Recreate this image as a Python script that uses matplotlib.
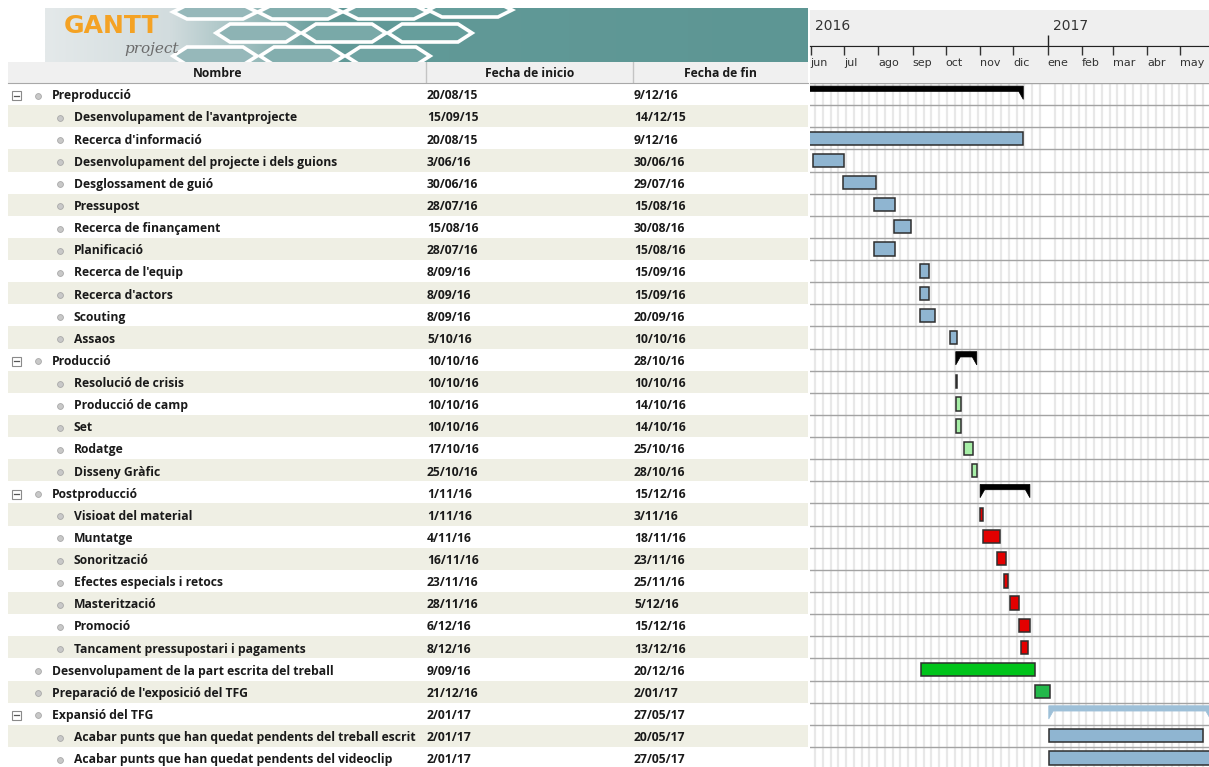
import matplotlib
matplotlib.use("Agg")
import matplotlib.pyplot as plt
import matplotlib.dates as mdates
from matplotlib.patches import Polygon, Rectangle
from matplotlib.ticker import FuncFormatter
from matplotlib.transforms import blended_transform_factory, offset_copy
import numpy as np
from datetime import datetime, timedelta

# ---------------- data ----------------
task_names = [
    "Preproducció",
    "Desenvolupament de l'avantprojecte",
    "Recerca d'informació",
    "Desenvolupament del projecte i dels guions",
    "Desglossament de guió",
    "Pressupost",
    "Recerca de finançament",
    "Planificació",
    "Recerca de l'equip",
    "Recerca d'actors",
    "Scouting",
    "Assaos",
    "Producció",
    "Resolució de crisis",
    "Producció de camp",
    "Set",
    "Rodatge",
    "Disseny Gràfic",
    "Postproducció",
    "Visioat del material",
    "Muntatge",
    "Sonorització",
    "Efectes especials i retocs",
    "Masterització",
    "Promoció",
    "Tancament pressupostari i pagaments",
    "Desenvolupament de la part escrita del treball",
    "Preparació de l'exposició del TFG",
    "Expansió del TFG",
    "Acabar punts que han quedat pendents del treball escrit",
    "Acabar punts que han quedat pendents del videoclip",
]
start_labels = [
    "20/08/15", "15/09/15", "20/08/15", "3/06/16", "30/06/16", "28/07/16",
    "15/08/16", "28/07/16", "8/09/16", "8/09/16", "8/09/16", "5/10/16",
    "10/10/16", "10/10/16", "10/10/16", "10/10/16", "17/10/16", "25/10/16",
    "1/11/16", "1/11/16", "4/11/16", "16/11/16", "23/11/16", "28/11/16",
    "6/12/16", "8/12/16", "9/09/16", "21/12/16", "2/01/17", "2/01/17", "2/01/17",
]
end_labels = [
    "9/12/16", "14/12/15", "9/12/16", "30/06/16", "29/07/16", "15/08/16",
    "30/08/16", "15/08/16", "15/09/16", "15/09/16", "20/09/16", "10/10/16",
    "28/10/16", "10/10/16", "14/10/16", "14/10/16", "25/10/16", "28/10/16",
    "15/12/16", "3/11/16", "18/11/16", "23/11/16", "25/11/16", "5/12/16",
    "15/12/16", "13/12/16", "20/12/16", "2/01/17", "27/05/17", "20/05/17", "27/05/17",
]
indent_levels = [0, 1, 1, 1, 1, 1, 1, 1, 1, 1, 1, 1,
                 0, 1, 1, 1, 1, 1,
                 0, 1, 1, 1, 1, 1, 1, 1,
                 0, 0, 0, 1, 1]
is_summary = [True] + [False] * 11 + [True] + [False] * 5 + [True] + [False] * 7 + \
             [False, False, True, False, False]
BLUE, LGREEN, RED = "#8fb5d1", "#a6eea6", "#e30000"
bar_colors = ["#000000"] + [BLUE] * 11 + ["#000000"] + [LGREEN] * 5 + ["#000000"] + [RED] * 7 + \
             ["#00c41a", "#22b84a", "#9ec0d8", BLUE, BLUE]
month_names = ["ene", "feb", "mar", "abr", "may", "jun", "jul", "ago", "sep", "oct", "nov", "dic"]
header_labels = ["Nombre", "Fecha de inicio", "Fecha de fin"]

# ---------------- layout ----------------
W, H = 1209, 767
ROW_TOP, ROW_H = 83.0, 22.13
PX_PER_DAY = 1.107
n = len(task_names)
rows = np.arange(1, n + 1)
y_bottom = 0.5 + (H - ROW_TOP) / ROW_H

view_start = datetime(2016, 5, 31, 8)
view_end = view_start + timedelta(days=(W - 810) / PX_PER_DAY)


def parse(s):
    d, m, y = s.split("/")
    return datetime(2000 + int(y), int(m), int(d))


start_dt = [parse(s) for s in start_labels]
end_dt = [parse(s) + timedelta(days=1) for s in end_labels]

fig = plt.figure(figsize=(W / 100, H / 100), dpi=100)
fig.patch.set_facecolor("white")


def px_axes(x0, y0, x1, y1, **kw):
    return fig.add_axes([x0 / W, 1 - y1 / H, (x1 - x0) / W, (y1 - y0) / H], **kw)


BOLD = dict(family=["Open Sans", "DejaVu Sans"], fontweight="bold")
FS = 8.7

# ---------------- banner ----------------
bx = px_axes(45, 8, 808, 62)
bx.set_xlim(45, 808)
bx.set_ylim(62, 8)
bx.axis("off")
xs = np.linspace(45, 808, 600)
stops_x = [45, 170, 260, 330, 808]
stops_c = [(228, 233, 234), (210, 220, 222), (150, 185, 185), (98, 154, 152), (93, 150, 148)]
grad = np.stack([np.interp(xs, stops_x, [c[k] for c in stops_c]) for k in range(3)], axis=-1) / 255.0
bx.imshow(grad[None, :, :], extent=(45, 808, 62, 8), aspect="auto", zorder=0)
hexes = [(215, 12, 7), (300, 12, 7), (386, 12, 7), (470, 10, 7),
         (258, 33, 9), (344, 33, 9), (430, 33, 9),
         (215, 56, 9), (302, 56, 9), (388, 56, 9)]
for cx, cy, hh in hexes:
    verts = [(cx - 42, cy), (cx - 28, cy - hh), (cx + 28, cy - hh), (cx + 42, cy),
             (cx + 28, cy + hh), (cx - 28, cy + hh)]
    t = np.clip((cx - 180) / 250, 0, 1)
    face = (1 - t) * np.array([0.62, 0.74, 0.75]) + t * np.array([0.40, 0.62, 0.61])
    bx.add_patch(Polygon(verts, closed=True, fc=face, ec="white", lw=2.6, zorder=2))
bx.text(64, 26, "GANTT", color="#f4a224", fontsize=18, fontweight="bold",
        family=["DejaVu Sans"], va="center", ha="left", zorder=3)
bx.text(124, 49, "project", color="#6b6b6b", fontsize=11, style="italic",
        family=["DejaVu Serif"], va="center", ha="left", zorder=3)

# ---------------- table header ----------------
hx = px_axes(8, 62, 808, 83)
hx.set_xlim(8, 808)
hx.set_ylim(0, 1)
hx.set_facecolor("#f0f0f0")
hx.set_xticks([])
hx.set_yticks([])
for k, s in hx.spines.items():
    s.set_visible(k == "bottom")
hx.spines["bottom"].set_color("#a8a8a8")
for xsep in (426, 633):
    hx.axvline(xsep, color="#c4c4c4", lw=1)
for lbl, xc in zip(header_labels, (218, 530, 720)):
    hx.text(xc, 0.45, lbl, ha="center", va="center", fontsize=FS, color="#1a1a1a", **BOLD)

# ---------------- table body ----------------
tx = px_axes(8, ROW_TOP, 808, H)
tx.set_xlim(8, 808)
tx.set_ylim(y_bottom, 0.5)
tx.axis("off")
for r in rows:
    if r % 2 == 0:
        tx.axhspan(r - 0.5, r + 0.5, color="#efefe4", lw=0)
for r, name, lvl, summ, s_lbl, e_lbl in zip(rows, task_names, indent_levels, is_summary,
                                             start_labels, end_labels):
    bullet_x = 38 if lvl == 0 else 60
    text_x = 52 if lvl == 0 else 74
    yc = r + 0.08
    if summ:
        tx.add_patch(Rectangle((12, yc - 0.2), 9, 0.4, fc="white", ec="#8a8a8a", lw=0.8))
        tx.plot([14, 19], [yc, yc], color="#555555", lw=0.9)
    tx.plot([bullet_x], [yc], marker="o", ms=4.2, mfc="#c8c8c8", mec="#a8a8a8", mew=0.6)
    tx.text(text_x, yc, name, ha="left", va="center", fontsize=FS, color="#1a1a1a", **BOLD)
    tx.text(427, yc, s_lbl, ha="left", va="center", fontsize=FS, color="#1a1a1a", **BOLD)
    tx.text(634, yc, e_lbl, ha="left", va="center", fontsize=FS, color="#1a1a1a", **BOLD)

# ---------------- gantt chart ----------------
xlim = (mdates.date2num(view_start), mdates.date2num(view_end))
gx = px_axes(810, ROW_TOP, W, H)
gx.set_xlim(*xlim)
gx.set_ylim(y_bottom, 0.5)
gx.xaxis.set_minor_locator(mdates.WeekdayLocator(byweekday=mdates.SU))
gx.xaxis.set_major_locator(mdates.MonthLocator())
gx.grid(which="minor", axis="x", color="#e8e8e8", lw=1.6)
gx.set_axisbelow(True)
gx.tick_params(which="both", length=0, labelbottom=False, labelleft=False)
for s in gx.spines.values():
    s.set_visible(False)
for b in np.arange(0.5, n + 1, 1.0):
    gx.axhline(b, color="#a3a3a3", lw=1, zorder=1)

tab_days = 4.5 / PX_PER_DAY
for r, s, e, c, summ in zip(rows, start_dt, end_dt, bar_colors, is_summary):
    x0, x1 = mdates.date2num(s), mdates.date2num(e)
    if summ:
        top, mid, bot = r - 0.36, r - 0.12, r + 0.24
        poly = [(x0, top), (x1, top), (x1, bot), (x1 - tab_days, mid),
                (x0 + tab_days, mid), (x0, bot)]
        gx.add_patch(Polygon(poly, closed=True, fc=c, ec=c, lw=0.5, zorder=3))
    else:
        gx.barh(r, x1 - x0, left=x0, height=0.6, color=c, edgecolor="#2e2e2e",
                lw=1.1, zorder=3)

# ---------------- timeline header ----------------
yx = px_axes(810, 10, W, 46)
yx.set_xlim(*xlim)
yx.set_ylim(0, 1)
yx.set_facecolor("#efefef")
for k, s in yx.spines.items():
    s.set_visible(k == "bottom")
yx.spines["bottom"].set_color("#222222")
yx.xaxis.set_major_locator(mdates.YearLocator())
yx.tick_params(axis="x", direction="in", length=8, width=1, color="#222222", labelbottom=False)
yx.set_yticks([])
ytrans = blended_transform_factory(yx.transData, yx.transAxes)
for yr in (2016, 2017):
    xpos = max(mdates.date2num(datetime(yr, 1, 1)), xlim[0])
    yx.text(xpos, 0.55, str(yr), transform=offset_copy(ytrans, fig=fig, x=5, y=0, units="dots"),
            ha="left", va="center", fontsize=10, color="#333333", family=["DejaVu Sans"])

mx = px_axes(810, 46, W, 83)
mx.set_xlim(*xlim)
mx.set_ylim(0, 1)
mx.set_facecolor("#efefef")
for k, s in mx.spines.items():
    s.set_visible(k == "top")
mx.spines["top"].set_color("#222222")
mx.xaxis.tick_top()
mx.xaxis.set_major_locator(mdates.MonthLocator())
mx.xaxis.set_major_formatter(FuncFormatter(lambda v, pos: month_names[mdates.num2date(v).month - 1]))
mx.tick_params(axis="x", direction="in", length=6.5, width=1, color="#333333",
               pad=-16, labelsize=8, labelcolor="#333333")
mx.set_yticks([])
for lbl in mx.get_xticklabels():
    lbl.set_horizontalalignment("left")

fig.savefig("out.png", dpi=100, facecolor="white")
